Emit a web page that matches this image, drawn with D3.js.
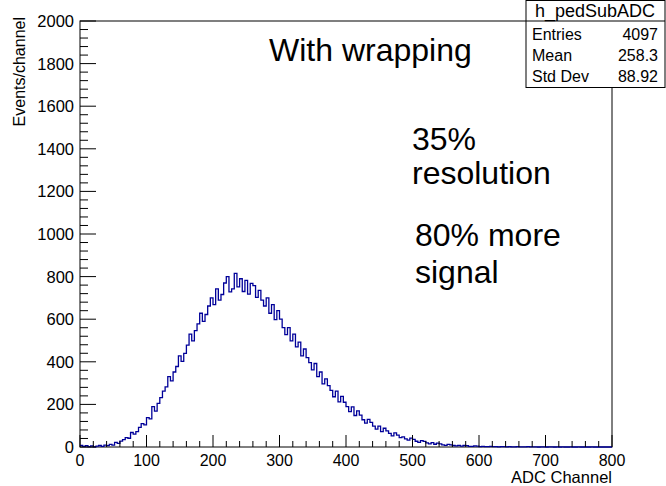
<!DOCTYPE html>
<html>
<head>
<meta charset="utf-8">
<script src="https://cdn.jsdelivr.net/npm/d3@7"></script>
<style>
  body { margin: 0; background: #fff; }
  svg text { font-family: "Liberation Sans", Arial, sans-serif; fill: #000; }
</style>
</head>
<body>
<div id="chart"></div>
<script>
// histogram contents, 4-channel bins starting at 0
var binWidth = 4;
var counts = [
  8, 3, 6, 2, 5, 1, 4, 7, 3, 9,
  6, 12, 9, 22, 17, 28, 35, 44, 41, 68,
  60, 72, 92, 110, 104, 138, 132, 190, 168, 205,
  232, 262, 282, 330, 310, 352, 378, 428, 402, 440,
  478, 530, 498, 546, 578, 628, 590, 622, 662, 700,
  668, 742, 690, 716, 770, 800, 728, 742, 815, 752,
  790, 730, 782, 718, 768, 758, 702, 735, 690, 662,
  700, 628, 668, 598, 640, 600, 560, 528, 560, 498,
  530, 470, 492, 428, 460, 420, 396, 362, 392, 330,
  352, 296, 320, 288, 266, 236, 262, 212, 238, 210,
  190, 166, 188, 148, 170, 150, 128, 112, 130, 116,
  98, 84, 98, 72, 88, 76, 64, 52, 66, 56,
  44, 48, 38, 32, 42, 36, 27, 22, 30, 26,
  19, 15, 21, 13, 18, 15, 10, 8, 12, 10,
  7, 5, 8, 4, 7, 6, 3, 3, 5, 4,
  2, 3, 2, 2, 3, 2, 2, 1, 2, 2,
  1, 2, 1, 1, 2, 1, 1, 1, 2, 1,
  1, 1, 0, 1, 1, 0, 1, 1, 0, 1,
  0, 1, 0, 0, 1, 0, 0, 1, 0, 0,
  0, 0, 1, 0, 0, 0, 0, 0, 0, 0
];
var xTicks = [0, 100, 200, 300, 400, 500, 600, 700, 800];
var yTicks = [0, 200, 400, 600, 800, 1000, 1200, 1400, 1600, 1800, 2000];
var statNames = ["Entries", "Mean", "Std Dev"];
var statValues = ["4097", "258.3", "88.92"];
var notes = ["35%", "resolution", "80% more", "signal"];

var width = 666, height = 486;
var fLeft = 80, fRight = 612, fTop = 21, fBottom = 447;

var svg = d3.select("#chart").append("svg")
  .attr("width", width)
  .attr("height", height);

var x = d3.scaleLinear().domain([0, 800]).range([fLeft, fRight]);
var y = d3.scaleLinear().domain([0, 2000]).range([fBottom, fTop]);

// frame
svg.append("rect")
  .attr("x", fLeft).attr("y", fTop)
  .attr("width", fRight - fLeft).attr("height", fBottom - fTop)
  .attr("fill", "none").attr("stroke", "#000").attr("stroke-width", 1);

// histogram outline
var pts = counts.map(function(c, i) { return [i * binWidth, c]; });
pts.push([counts.length * binWidth, counts[counts.length - 1]]);
var line = d3.line()
  .x(function(d) { return x(d[0]); })
  .y(function(d) { return y(d[1]); })
  .curve(d3.curveStepAfter);
svg.append("path")
  .datum(pts)
  .attr("d", line)
  .attr("fill", "none")
  .attr("stroke", "#000099")
  .attr("stroke-width", 1.3);

// x axis
var xMinor = d3.range(0, 801, 20);
svg.append("g").selectAll("line").data(xMinor).enter().append("line")
  .attr("x1", function(d) { return x(d); }).attr("x2", function(d) { return x(d); })
  .attr("y1", fBottom)
  .attr("y2", function(d) { return d % 100 === 0 ? fBottom - 12 : fBottom - 6; })
  .attr("stroke", "#000");
svg.append("g").selectAll("text").data(xTicks).enter().append("text")
  .attr("x", function(d) { return x(d); })
  .attr("y", 466)
  .attr("text-anchor", "middle")
  .attr("font-size", 16)
  .text(function(d) { return d; });

// y axis
var yMinor = d3.range(0, 2001, 40);
svg.append("g").selectAll("line").data(yMinor).enter().append("line")
  .attr("x1", fLeft)
  .attr("x2", function(d) { return d % 200 === 0 ? fLeft + 16 : fLeft + 8; })
  .attr("y1", function(d) { return y(d); }).attr("y2", function(d) { return y(d); })
  .attr("stroke", "#000");
svg.append("g").selectAll("text").data(yTicks).enter().append("text")
  .attr("x", 74)
  .attr("y", function(d) { return y(d) + 6; })
  .attr("text-anchor", "end")
  .attr("font-size", 16.5)
  .text(function(d) { return d; });

// axis titles
svg.append("text")
  .attr("x", fRight).attr("y", 483)
  .attr("text-anchor", "end")
  .attr("font-size", 16.5)
  .text("ADC Channel");
svg.append("text")
  .attr("transform", "translate(25,17) rotate(-90)")
  .attr("text-anchor", "end")
  .attr("font-size", 16)
  .text("Events/channel");

// stats box
var box = svg.append("g");
box.append("rect")
  .attr("x", 526).attr("y", 0.5).attr("width", 139).attr("height", 87)
  .attr("fill", "#fff").attr("stroke", "#000");
box.append("line")
  .attr("x1", 526).attr("x2", 665).attr("y1", 21).attr("y2", 21)
  .attr("stroke", "#000");
box.append("text")
  .attr("x", 595).attr("y", 17)
  .attr("text-anchor", "middle")
  .attr("font-size", 18)
  .text("h_pedSubADC");
statNames.forEach(function(n, i) {
  box.append("text").attr("x", 532).attr("y", 40 + i * 21)
    .attr("font-size", 16).text(n);
  box.append("text").attr("x", 658).attr("y", 40 + i * 21)
    .attr("text-anchor", "end").attr("font-size", 16).text(statValues[i]);
});

// annotations
svg.append("text")
  .attr("x", 269).attr("y", 61)
  .attr("font-size", 32)
  .text("With wrapping");
var noteY = [150, 184, 246, 283];
var noteX = [412, 412, 415, 415];
notes.forEach(function(t, i) {
  svg.append("text")
    .attr("x", noteX[i]).attr("y", noteY[i])
    .attr("font-size", 32)
    .text(t);
});
</script>
</body>
</html>
